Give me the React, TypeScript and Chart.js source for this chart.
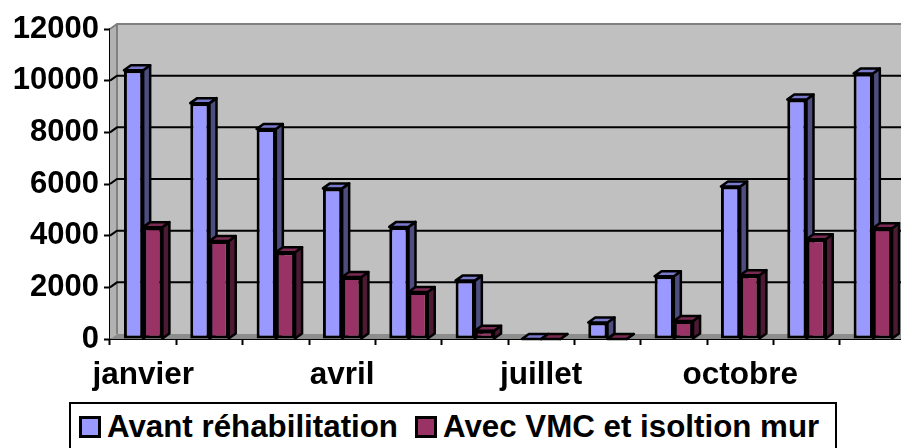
import React, { useEffect, useRef } from "react";
import { Chart, registerables } from "chart.js";

Chart.register(...registerables);

const categories = ["janvier", "février", "mars", "avril", "mai", "juin", "juillet", "août", "septembre", "octobre", "novembre", "décembre"];
const seriesNames = ["Avant réhabilitation", "Avec VMC et isoltion mur"];
const avant = [10400, 9130, 8130, 5830, 4340, 2260, 0, 640, 2430, 5900, 9270, 10280];
const avecVmc = [4330, 3790, 3360, 2400, 1820, 320, 0, 0, 700, 2470, 3860, 4290];
const yTicks = [0, 2000, 4000, 6000, 8000, 10000, 12000];
const shownLabels = ["janvier", "avril", "juillet", "octobre"];

const FONT = "'Liberation Sans', Arial, sans-serif";
const DX = 7;
const DY = 5;
const colors = [
  { front: "#9999FF", side: "#4D4D80", top: "#7A7ACC" },
  { front: "#993366", side: "#4D1A33", top: "#7A2952" },
];

function poly(ctx: CanvasRenderingContext2D, pts: number[][], fill: string | null, stroke: string | null, lw = 2.5) {
  ctx.beginPath();
  pts.forEach((p, i) => (i ? ctx.lineTo(p[0], p[1]) : ctx.moveTo(p[0], p[1])));
  ctx.closePath();
  if (fill) {
    ctx.fillStyle = fill;
    ctx.fill();
  }
  if (stroke) {
    ctx.strokeStyle = stroke;
    ctx.lineWidth = lw;
    ctx.lineJoin = "round";
    ctx.stroke();
  }
}

const walls3d = {
  id: "walls3d",
  beforeDatasetsDraw(chart: any) {
    const { ctx, chartArea: a, scales } = chart;
    const y = scales.y;
    ctx.save();
    // back wall
    poly(ctx, [[a.left + DX, a.top - DY], [a.right + DX, a.top - DY], [a.right + DX, a.bottom - DY], [a.left + DX, a.bottom - DY]], "#C0C0C0", null);
    // left wall
    poly(ctx, [[a.left, a.top], [a.left + DX, a.top - DY], [a.left + DX, a.bottom - DY], [a.left, a.bottom]], "#B2B2B2", null);
    // floor
    poly(ctx, [[a.left, a.bottom], [a.left + DX, a.bottom - DY], [a.right + DX, a.bottom - DY], [a.right, a.bottom]], "#8C8C8C", null);
    // wall outline
    ctx.strokeStyle = "#808080";
    ctx.lineWidth = 2;
    ctx.beginPath();
    ctx.moveTo(a.left, a.top);
    ctx.lineTo(a.left + DX, a.top - DY);
    ctx.lineTo(a.right + DX, a.top - DY);
    ctx.moveTo(a.left + DX, a.top - DY);
    ctx.lineTo(a.left + DX, a.bottom - DY);
    ctx.stroke();
    // gridlines on the walls
    ctx.strokeStyle = "#000000";
    ctx.lineWidth = 2;
    yTicks.forEach((v) => {
      if (v === 0 || v === 12000) return;
      const py = y.getPixelForValue(v);
      ctx.beginPath();
      ctx.moveTo(a.left, py);
      ctx.lineTo(a.left + DX, py - DY);
      ctx.lineTo(a.right + DX, py - DY);
      ctx.stroke();
    });
    // sides and tops of the bars, first series first
    [0, 1].forEach((di) => {
      const meta = chart.getDatasetMeta(di);
      meta.data.forEach((bar: any) => {
        const l = bar.x - bar.width / 2;
        const r = bar.x + bar.width / 2;
        const t = bar.y;
        const b = bar.base;
        poly(ctx, [[r, t], [r + DX, t - DY], [r + DX, b - DY], [r, b]], colors[di].side, "#000000");
        poly(ctx, [[l, t], [l + DX, t - DY], [r + DX, t - DY], [r, t]], colors[di].top, "#000000");
      });
    });
    ctx.restore();
  },
};

export default function App() {
  const ref = useRef<HTMLCanvasElement | null>(null);
  useEffect(() => {
    const chart = new Chart(ref.current as HTMLCanvasElement, {
      type: "bar",
      data: {
        labels: categories,
        datasets: [
          { label: seriesNames[0], data: avant, backgroundColor: colors[0].front, borderColor: "#000", borderWidth: 3, borderSkipped: false },
          { label: seriesNames[1], data: avecVmc, backgroundColor: colors[1].front, borderColor: "#000", borderWidth: 3, borderSkipped: false },
        ],
      },
      options: {
        animation: false,
        responsive: false,
        layout: { padding: { top: 29, left: 0, right: 0, bottom: 0 } },
        plugins: { legend: { display: false }, title: { display: false }, tooltip: { enabled: false } },
        datasets: { bar: { categoryPercentage: 0.58, barPercentage: 1 } },
        scales: {
          x: {
            grid: { drawOnChartArea: false, drawTicks: true, tickLength: 6, tickColor: "#000", tickWidth: 2, offset: true },
            border: { color: "#000", width: 2 },
            afterFit: (s: any) => { s.height = 109; },
            ticks: {
              autoSkip: false,
              maxRotation: 0,
              minRotation: 0,
              padding: 11,
              color: "#000",
              font: { family: FONT, size: 31.5, weight: "bold" },
              callback: (_v: any, i: number) => (shownLabels.includes(categories[i]) ? categories[i] : ""),
            },
          },
          y: {
            min: 0,
            max: 12000,
            grid: { drawOnChartArea: false, drawTicks: true, tickLength: 6, tickColor: "#000", tickWidth: 2 },
            border: { color: "#000", width: 2 },
            afterFit: (s: any) => { s.width = 110; },
            ticks: {
              stepSize: 2000,
              padding: 5,
              color: "#000",
              font: { family: FONT, size: 31, weight: "bold" },
              callback: (v: any) => String(v),
            },
          },
        },
      },
      plugins: [walls3d],
    } as any);
    return () => chart.destroy();
  }, []);

  const item = { display: "inline-flex", alignItems: "center" } as const;
  const box = (c: string, ml: number) => ({ display: "inline-block", width: 16, height: 16, background: c, border: "3px solid #000", marginLeft: ml, marginRight: 6, boxSizing: "content-box" as const });
  return (
    <div style={{ position: "fixed", left: 0, top: 0, width: 901, height: 448, overflow: "hidden", background: "#fff" }}>
      <canvas ref={ref} width={906} height={448} style={{ display: "block", width: 906, height: 448 }} />
      <div style={{ position: "absolute", left: 69, top: 402, width: 764, height: 60, border: "2px solid #000", fontFamily: FONT, fontWeight: "bold", fontSize: 31.3, lineHeight: "46px", whiteSpace: "nowrap", color: "#000", background: "#fff" }}>
        <span style={item}><span style={box(colors[0].front, 8)} />{seriesNames[0]}</span>
        <span style={item}><span style={box(colors[1].front, 17)} />{seriesNames[1]}</span>
      </div>
    </div>
  );
}
